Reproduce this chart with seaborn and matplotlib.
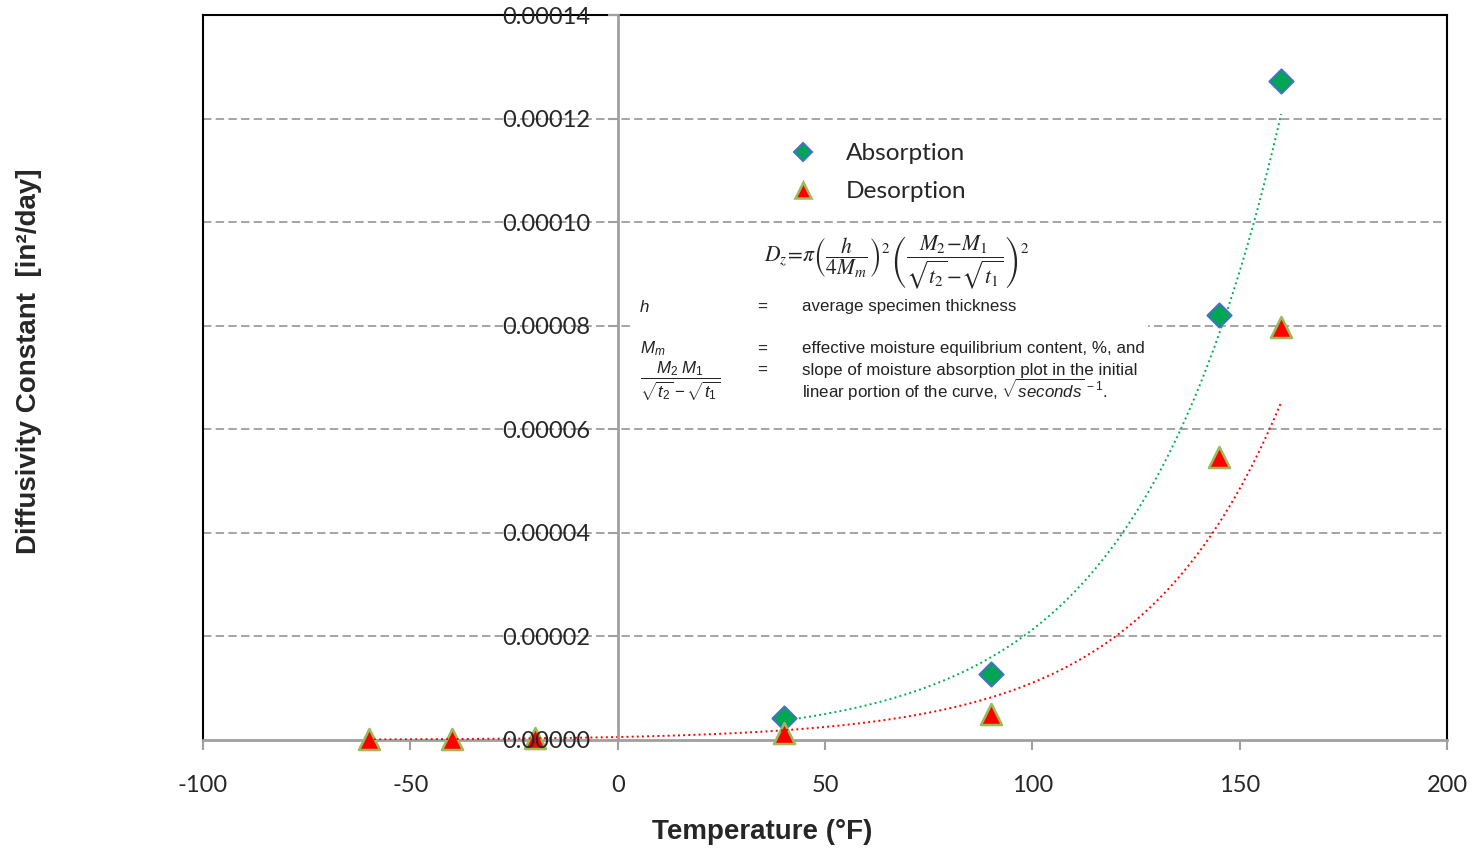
import numpy as np
import pandas as pd
import seaborn as sns
import matplotlib.pyplot as plt
from matplotlib.ticker import FormatStrFormatter
from matplotlib.lines import Line2D
from matplotlib.patches import Rectangle

# data
abs_temp = [40, 90, 145, 160]
abs_diff = [4.25e-6, 1.28e-5, 8.20e-5, 1.273e-4]
des_temp = [-60, -40, -20, 40, 90, 145, 160]
des_diff = [1.0e-7, 2.0e-7, 4.0e-7, 1.3e-6, 5.0e-6, 5.47e-5, 7.97e-5]

x_ticks = [-100, -50, 0, 50, 100, 150, 200]
y_ticks = [0.0, 0.00002, 0.00004, 0.00006, 0.00008, 0.00010, 0.00012, 0.00014]

GREEN = "#00b050"
RED = "#ff0000"
GRAY = "#a0a0a0"


def exp_trend(x, y, n=300):
    # Excel-style exponential trendline: least squares on log(y)
    b, a = np.polyfit(x, np.log(y), 1)
    xs = np.linspace(min(x), max(x), n)
    return pd.DataFrame({"x": xs, "y": np.exp(a + b * xs)})


def set_style():
    sns.set_style("white")
    plt.rcParams.update({
        'font.family': ['Lato', 'DejaVu Sans'],
        'mathtext.fontset': 'custom',
        'mathtext.rm': 'Liberation Sans',
        'mathtext.it': 'Liberation Sans:italic',
        'mathtext.bf': 'Liberation Sans:bold',
        'axes.linewidth': 1.5,
        'axes.unicode_minus': False,
    })


def px(x, y):
    # reference pixel -> axes fraction
    return (x - 203) / 1244, (740 - y) / 725


def draw_equation(ax):
    x0, y0 = px(632, 405)
    x1, y1 = px(1148, 232)
    ax.add_patch(Rectangle((x0, y0), x1 - x0, y1 - y0, transform=ax.transAxes,
                           facecolor='white', edgecolor='none', zorder=1.5))
    eq = (r"$D_z\!=\!\pi\left(\dfrac{h}{4M_m}\right)^2"
          r"\left(\dfrac{M_2\!-\!M_1}{\sqrt{t_2}\!-\!\sqrt{t_1}}\right)^2$")
    ax.text(*px(897, 262), eq, transform=ax.transAxes, ha='center', va='center',
            fontsize=15.5, math_fontfamily='stix', color='#222222', zorder=2)

    col = '#222222'
    kw = dict(transform=ax.transAxes, va='center', fontsize=12.2,
              family='Liberation Sans', color=col, zorder=2)
    ax.text(*px(640, 307), "h", style='italic', **kw)
    ax.text(*px(757, 307), "=", **kw)
    ax.text(*px(802, 307), "average specimen thickness", **kw)
    ax.text(*px(640, 349), r"$M_m$", **kw)
    ax.text(*px(757, 349), "=", **kw)
    ax.text(*px(802, 349), "effective moisture equilibrium content, %, and", **kw)
    ax.text(*px(640, 381), r"$\dfrac{M_2\ M_1}{\sqrt{t_2}-\sqrt{t_1}}$", **kw)
    ax.text(*px(757, 370), "=", **kw)
    ax.text(*px(802, 370), "slope of moisture absorption plot in the initial", **kw)
    ax.text(*px(802, 390), r"linear portion of the curve, $\sqrt{seconds}^{\,-1}$.", **kw)


def main():
    set_style()
    fig = plt.figure(figsize=(14.72, 8.49), dpi=100)
    ax = fig.add_axes([203 / 1472, 109 / 849, 1244 / 1472, 725 / 849])

    df_abs = pd.DataFrame({"Temperature": abs_temp, "D": abs_diff})
    df_des = pd.DataFrame({"Temperature": des_temp, "D": des_diff})

    # dashed gridlines
    for yv in y_ticks[1:-1]:
        ax.axhline(yv, color='#8c8c8c', lw=1.1, linestyle=(0, (5.5, 2.8)), zorder=0.5)

    draw_equation(ax)

    sns.scatterplot(data=df_abs, x="Temperature", y="D", marker='D', s=150,
                    color="#00a651", edgecolor="#4472c4", linewidth=1.5,
                    ax=ax, zorder=3, legend=False, clip_on=False)
    sns.scatterplot(data=df_des, x="Temperature", y="D", marker='^', s=230,
                    color=RED, edgecolor="#9bbb59", linewidth=1.8,
                    ax=ax, zorder=3, legend=False, clip_on=False)

    tr_abs = exp_trend(abs_temp, abs_diff)
    tr_des = exp_trend(des_temp, des_diff)
    sns.lineplot(data=tr_abs, x="x", y="y", color=GREEN, lw=1.4, linestyle=':',
                 ax=ax, zorder=4)
    sns.lineplot(data=tr_des, x="x", y="y", color=RED, lw=1.4, linestyle=':',
                 ax=ax, zorder=4)

    ax.set_xlim(x_ticks[0], x_ticks[-1])
    ax.set_ylim(y_ticks[0], y_ticks[-1])
    ax.set_xticks(x_ticks)
    ax.set_yticks([])

    # frame: black on three sides, grey x axis
    for s in ['left', 'top', 'right']:
        ax.spines[s].set_color('black')
        ax.spines[s].set_linewidth(1.5)
    ax.spines['bottom'].set_color(GRAY)
    ax.spines['bottom'].set_linewidth(2.0)
    ax.tick_params(axis='x', which='major', direction='out', length=7, width=1.5,
                   color=GRAY, pad=18, labelsize=17, bottom=True)

    # y axis crossing at x = 0, labels drawn over the markers
    sec = ax.secondary_yaxis(1 / 3)
    sec.set_zorder(6)
    sec.set_yticks(y_ticks)
    sec.yaxis.set_major_formatter(FormatStrFormatter('%.5f'))
    sec.spines['left'].set_color(GRAY)
    sec.spines['left'].set_linewidth(2.0)
    sec.tick_params(axis='y', direction='out', length=7, width=1.5, color=GRAY,
                    pad=13, labelsize=17)

    ax.set_xlabel("Temperature (°F)", fontsize=20, fontweight='bold',
                  family='Liberation Sans', va='center')
    ax.xaxis.set_label_coords(*px(762, 832))
    ax.set_ylabel("Diffusivity Constant  [in²/day]", fontsize=20, fontweight='bold',
                  family='Liberation Sans', va='center')
    ax.yaxis.set_label_coords(*px(29, 361))

    handles = [
        Line2D([], [], linestyle='none', marker='D', markersize=9.5,
               markerfacecolor="#00a651", markeredgecolor="#4472c4", markeredgewidth=1.5),
        Line2D([], [], linestyle='none', marker='^', markersize=12,
               markerfacecolor=RED, markeredgecolor="#9bbb59", markeredgewidth=1.8),
    ]
    ax.legend(handles, ["Absorption", "Desorption"], frameon=False, loc='upper left',
              bbox_to_anchor=px(791, 143), borderaxespad=0, borderpad=0,
              handlelength=1.0, handletextpad=1.23, labelspacing=0.7, fontsize=17.6)

    fig.savefig("out.png", dpi=100)


if __name__ == "__main__":
    main()
